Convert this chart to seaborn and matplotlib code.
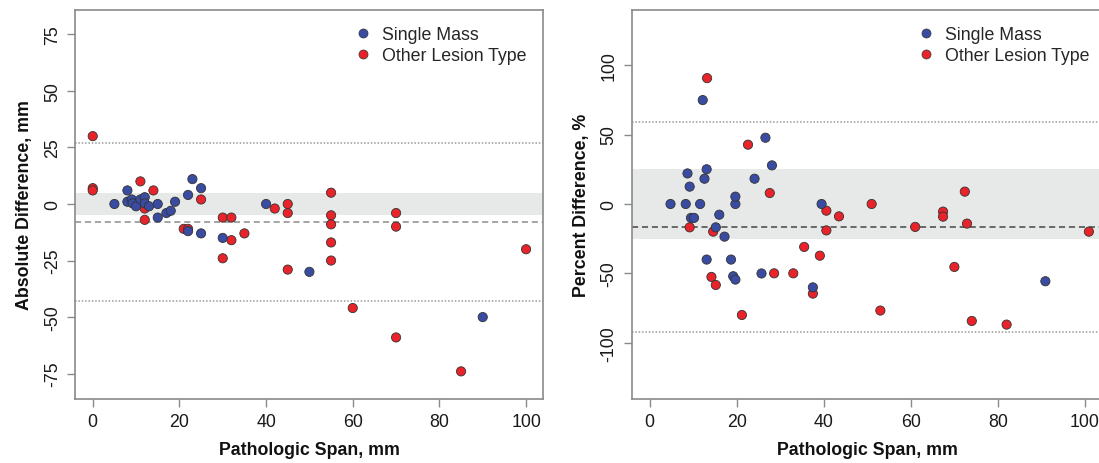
import matplotlib
matplotlib.use("Agg")
import matplotlib.pyplot as plt
from matplotlib.lines import Line2D
import seaborn as sns
import pandas as pd

# ---------------- data ----------------
# Left panel: absolute difference (mm) vs pathologic span (mm)
abs_single_x = [5, 8, 8, 9, 9.2, 10, 11, 12, 12, 13, 15, 15, 17, 18, 19, 22, 23, 25, 22, 25, 30, 40, 50, 90]
abs_single_y = [0, 6, 1, 2, 0.3, -1, 2, 3, 0.3, -1, 0, -6, -4, -3, 1, 4, 11, 7, -12, -13, -15, 0, -30, -50]
abs_other_x = [0, 0, 0, 11, 14, 12, 12, 25, 21, 22, 30, 32, 30, 32, 35, 42, 45, 45, 45,
               55, 55, 55, 55, 55, 60, 70, 70, 70, 85, 100]
abs_other_y = [30, 7, 6, 10, 6, -2, -7, 2, -11, -11, -6, -6, -24, -16, -13, -2, 0, -4, -29,
               5, -5, -9, -17, -25, -46, -4, -10, -59, -74, -20]

# Right panel: percent difference (%) vs pathologic span (mm)
pct_single_x = [4.8, 8.3, 11.6, 19.7, 39.5, 8.7, 9.2, 12.2, 12.6, 13.1, 9.5, 10.2, 16.0, 15.2, 17.2,
                13.1, 18.7, 19.2, 19.7, 19.7, 24.1, 26.6, 28.1, 25.7, 37.5, 90.9]
pct_single_y = [0, 0, 0, 0, 0, 22, 12.5, 74.8, 18.2, 25, -10, -10, -7.7, -16.8, -23.5,
                -40, -40, -52, -54.4, 5.3, 18.2, 47.7, 27.8, -50, -60, -55.6]
pct_other_x = [13.2, 22.6, 27.6, 9.2, 14.6, 14.2, 15.2, 21.2, 28.6, 33.0, 35.5, 39.1, 37.5, 40.6,
               40.6, 43.5, 51.0, 53.0, 61.0, 67.4, 67.4, 70.0, 72.4, 72.9, 74.0, 82.0, 100.9]
pct_other_y = [90.6, 42.7, 7.9, -16.8, -19.9, -52.5, -58.3, -79.9, -49.9, -49.9, -30.9, -37.2, -64.5, -4.8,
               -19.0, -8.9, 0, -76.7, -16.5, -5.5, -9.1, -45.3, 8.9, -14.1, -84.2, -86.8, -19.9]

# Reference lines (mean bias, limits of agreement, acceptable band)
abs_mean, abs_loa_hi, abs_loa_lo, abs_band = -7.9, 26.9, -42.8, 5
pct_mean, pct_loa_hi, pct_loa_lo, pct_band = -16.3, 59.2, -91.8, 25

groups = ["Single Mass", "Other Lesion Type"]
x_ticks = [0, 20, 40, 60, 80, 100]
abs_y_ticks = [-75, -50, -25, 0, 25, 50, 75]
pct_y_ticks = [-100, -50, 0, 50, 100]

x_label = "Pathologic Span, mm"
abs_y_label = "Absolute Difference, mm"
pct_y_label = "Percent Difference, %"

# ---------------- style ----------------
sns.set_style("white")
plt.rcParams["font.family"] = ["Liberation Sans", "DejaVu Sans"]
plt.rcParams["axes.unicode_minus"] = False
FS = 12.8
BLUE = "#3A4BA2"
RED = "#E8232A"
SPINE = "#8A8A8A"
palette = {groups[0]: BLUE, groups[1]: RED}


def make_df(sx, sy, ox, oy):
    return pd.DataFrame({
        "x": list(ox) + list(sx),
        "y": list(oy) + list(sy),
        "group": [groups[1]] * len(ox) + [groups[0]] * len(sx),
    })


fig = plt.figure(figsize=(10.99, 4.64), dpi=100)
ax1 = fig.add_axes([75.4 / 1099, 1 - 399.5 / 464, 468.0 / 1099, 389.0 / 464])
ax2 = fig.add_axes([632.2 / 1099, 1 - 399.5 / 464, 470.2 / 1099, 389.0 / 464])

panels = [
    (ax1, make_df(abs_single_x, abs_single_y, abs_other_x, abs_other_y), abs_mean, abs_loa_hi, abs_loa_lo,
     abs_band, (-86, 86), abs_y_ticks, abs_y_label, "#8C8C8C", 0.596),
    (ax2, make_df(pct_single_x, pct_single_y, pct_other_x, pct_other_y), pct_mean, pct_loa_hi, pct_loa_lo,
     pct_band, (-140, 140), pct_y_ticks, pct_y_label, "#454545", 0.606),
]

for ax, df, mean, hi, lo, band, ylim, yticks, ylab, dcol, legx in panels:
    ax.axhspan(-band, band, color="#E7E8E8", lw=0, zorder=0)
    ax.axhline(mean, color=dcol, lw=1.1, ls=(0, (4, 2.5)), zorder=1)
    ax.axhline(hi, color="#9A9A9A", lw=1.1, ls=(0, (1, 1.2)), zorder=1)
    ax.axhline(lo, color="#9A9A9A", lw=1.1, ls=(0, (1, 1.2)), zorder=1)
    sns.scatterplot(data=df, x="x", y="y", hue="group", palette=palette, ax=ax,
                    s=44, edgecolor="#333333", linewidth=0.6, legend=False, zorder=3)
    ax.set_xlim(-4, 104)
    ax.set_ylim(*ylim)
    ax.set_xticks(x_ticks)
    ax.set_yticks(yticks)
    ax.set_xlabel(x_label, fontsize=FS, fontweight="bold", labelpad=8, color="#111111")
    ax.set_ylabel(ylab, fontsize=FS, fontweight="bold", labelpad=8, color="#111111")
    for sp in ax.spines.values():
        sp.set_visible(True)
        sp.set_color(SPINE)
        sp.set_linewidth(1.2)
    ax.tick_params(axis="both", which="major", direction="out", length=5.5, width=1.0,
                   color=SPINE, labelsize=FS, labelcolor="#1A1A1A", pad=5,
                   bottom=True, left=True)
    for lab in ax.get_yticklabels():
        lab.set_rotation(90)
        lab.set_va("center")
        lab.set_ha("right")
    handles = [Line2D([0], [0], marker="o", ls="none", markersize=6.5, markerfacecolor=palette[g],
                      markeredgecolor="#333333", markeredgewidth=0.5) for g in groups]
    ax.legend(handles, groups, loc="upper left", bbox_to_anchor=(legx, 0.958), frameon=False,
              fontsize=FS, handlelength=1.0, handletextpad=0.55, labelspacing=0.22,
              borderpad=0, borderaxespad=0)

fig.savefig("out.png", dpi=100)
